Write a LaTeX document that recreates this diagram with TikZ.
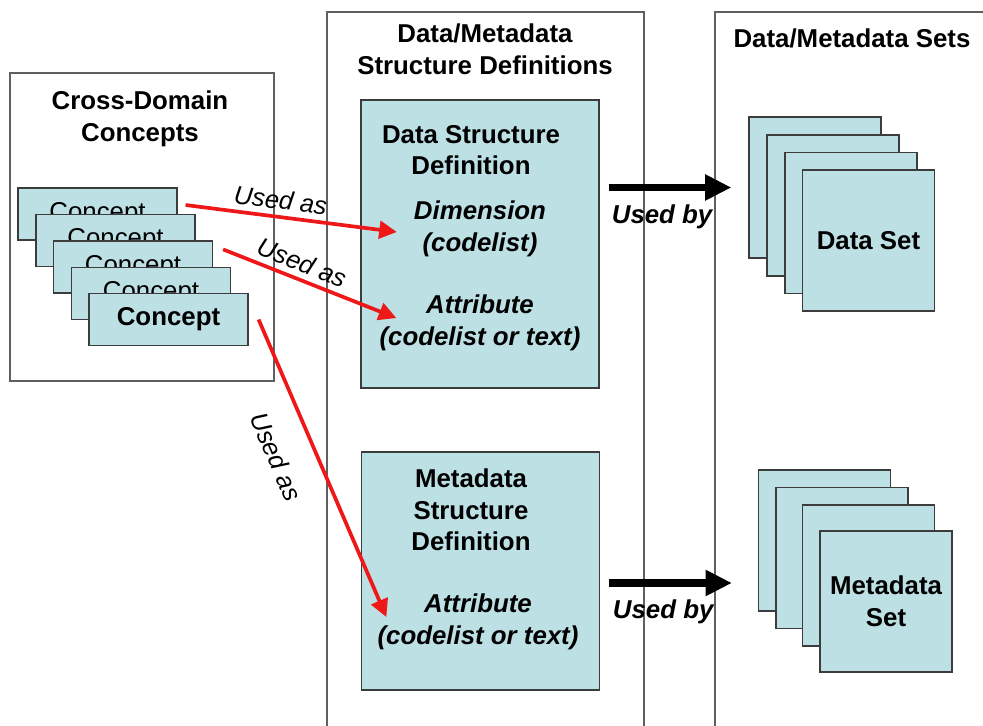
\documentclass[tikz,border=0pt]{standalone}
\usepackage{fontspec}
\setmainfont{Liberation Sans}
\usetikzlibrary{arrows.meta}
\definecolor{boxfill}{RGB}{188,224,228}
\definecolor{boxline}{RGB}{60,60,60}
\definecolor{panelline}{RGB}{95,95,95}
\definecolor{usedred}{RGB}{238,24,24}

\begin{document}
\begin{tikzpicture}[x=0.02cm,y=-0.02cm,panel/.style={draw=panelline,line width=0.7pt},cardbox/.style={draw=boxline,line width=0.7pt,fill=boxfill,font=\fontsize{14.7}{18}\selectfont,align=center,inner sep=0pt},conceptbox/.style={cardbox,minimum width=3.18cm,minimum height=1.04cm},setbox/.style={cardbox,font=\fontsize{14.7}{18}\selectfont\bfseries,minimum width=2.64cm,minimum height=2.82cm},structbox/.style={cardbox,minimum width=4.76cm},title/.style={font=\fontsize{14.7}{18}\selectfont\bfseries,align=center},itemtext/.style={font=\fontsize{14.7}{18}\selectfont\bfseries\itshape,align=center},usedas/.style={draw=usedred,line width=2.1pt,-{Triangle[length=10pt,width=10pt]}},usedby/.style={line width=4.5pt,-{Triangle[length=15pt,width=14pt]}},aslabel/.style={font=\fontsize{14.5}{17}\selectfont\itshape},bylabel/.style={font=\fontsize{14.7}{18}\selectfont\bfseries\itshape}]
\useasboundingbox[fill=white] (0,0) rectangle (983,726);
\draw[panel] (10,73) rectangle (274,381);\draw[panel] (327,12) rectangle (644,740);\draw[panel] (715,12) rectangle (1000,740);
\node[title] (cdtitle) at (140,119) {Cross-Domain\\Concepts};
\node[title] (mdtitle) at (485,49) {Data/Metadata\\Structure Definitions};
\node[title] (settitle) at (852,38) {Data/Metadata Sets};
\node[conceptbox] (c1) at (97.5,214) {Concept};
\node[conceptbox] (c2) at (115.5,240.5) {Concept};
\node[conceptbox] (c3) at (133,267) {Concept};
\node[conceptbox] (c4) at (151,293.5) {Concept};
\node[conceptbox,font=\fontsize{14.7}{18}\selectfont\bfseries] (c5) at (168.5,319.5) {Concept};
\node[structbox,minimum height=5.76cm] (dsd) at (480,244) {};
\node[title] (dsdtitle) at (471,150) {Data Structure\\Definition};
\node[itemtext] (dim) at (480,229) {Dimension\\(codelist)};
\node[itemtext] (attr1) at (480,323) {Attribute\\(codelist or text)};
\node[structbox,minimum height=4.76cm] (msd) at (480.5,571) {};
\node[title] (msdtitle) at (471,510) {Metadata\\Structure\\Definition};
\node[itemtext] (attr2) at (478,622) {Attribute\\(codelist or text)};
\node[setbox] (ds1) at (815,187.5) {};
\node[setbox] (ds2) at (833,205.5) {};
\node[setbox] (ds3) at (851,223) {};
\node[setbox] (ds4) at (868.5,240.5) {Data Set};
\node[setbox] (ms1) at (824.5,540.5) {};
\node[setbox] (ms2) at (842,558) {};
\node[setbox] (ms3) at (868.5,575.5) {};
\node[setbox] (ms4) at (886,601.5) {Metadata\\Set};
\draw[usedas] ([shift={(0.16cm,0.18cm)}]c1.east) -- ([shift={(-0.22cm,-0.06cm)}]dim.west) node[aslabel,sloped,above,pos=0.44] {Used as};
\draw[usedas] ([shift={(0.2cm,-0.18cm)}]c3.north east) -- ([shift={(0.46cm,0.1cm)}]attr1.west) node[aslabel,sloped,above,pos=0.42] {Used as};
\draw[usedas] ([xshift=0.2cm]c5.east) -- ([shift={(0.3cm,0.1cm)}]attr2.west) node[aslabel,sloped,below=0.42cm,pos=0.41] {Used as};
\draw[usedby,shorten <=0.18cm,shorten >=0.34cm] (ds1.west -| dsd.east) -- (ds1.west) node[bylabel,below=0.14cm,pos=0.42] {Used by};
\draw[usedby,shorten <=0.18cm,shorten >=0.52cm] ([yshift=-0.24cm]msd.east) -- ([yshift=-0.24cm]msd.east -| ms1.west) node[bylabel,below=0.14cm,pos=0.4] {Used by};
\end{tikzpicture}
\end{document}
